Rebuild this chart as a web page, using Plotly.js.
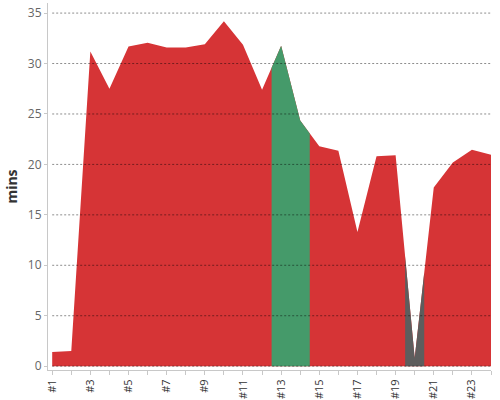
<!DOCTYPE html>
<html>
<head>
<meta charset="utf-8">
<script src="https://cdn.plot.ly/plotly-3.0.1.min.js"></script>
<style>html,body{margin:0;padding:0;background:#fff;}#chart{width:500px;height:400px;}</style>
</head>
<body>
<div id="chart"></div>
<script>
// ---- data ----
const categories = ['#1','#2','#3','#4','#5','#6','#7','#8','#9','#10','#11','#12',
                    '#13','#14','#15','#16','#17','#18','#19','#20','#21','#22','#23','#24'];
const minutes = [1.4, 1.5, 31.2, 27.5, 31.7, 32.05, 31.6, 31.6, 31.9, 34.2, 31.85, 27.4,
                 31.75, 24.35, 21.8, 21.35, 13.3, 20.8, 20.9, 0.8, 17.7, 20.2, 21.45, 20.95];
const status = ['late','late','late','late','late','late','late','late','late','late','late','late',
                'ontime','ontime','late','late','late','late','late','none','late','late','late','late'];
const yTicks = [0, 5, 10, 15, 20, 25, 30, 35];

// ---- styles ----
const statusColors = {late: 'rgb(214,52,54)', ontime: 'rgb(69,154,106)', none: 'rgb(93,93,93)'};
const baseStatus = 'late';

const n = minutes.length;
const idx = categories.map((c, i) => i);
function valAt(x) {
  const i0 = Math.floor(x), i1 = Math.min(n - 1, i0 + 1);
  const f = x - i0;
  return minutes[i0] + (minutes[i1] - minutes[i0]) * f;
}

// Base area with all points, then overlay each run of another status (colour switches halfway between points)
const traces = [{
  type: 'scatter', mode: 'lines', x: idx, y: minutes,
  fill: 'tozeroy', fillcolor: statusColors[baseStatus],
  line: {width: 0, color: statusColors[baseStatus]},
  hoverinfo: 'skip', showlegend: false
}];
let start = 0;
for (let i = 1; i <= n; i++) {
  if (i === n || status[i] !== status[start]) {
    const end = i - 1;
    if (status[start] !== baseStatus) {
      const xs = [], ys = [];
      const a = Math.max(0, start - 0.5), b = Math.min(n - 1, end + 0.5);
      if (a < start) { xs.push(a); ys.push(valAt(a)); }
      for (let k = start; k <= end; k++) { xs.push(idx[k]); ys.push(minutes[k]); }
      if (b > end) { xs.push(b); ys.push(valAt(b)); }
      traces.push({
        type: 'scatter', mode: 'lines', x: xs, y: ys,
        fill: 'tozeroy', fillcolor: statusColors[status[start]],
        line: {width: 0, color: statusColors[status[start]]},
        hoverinfo: 'skip', showlegend: false
      });
    }
    start = i;
  }
}

const gridShapes = yTicks.map(v => ({
  type: 'line', xref: 'x', yref: 'y', layer: 'above',
  x0: 0, x1: n - 1, y0: v, y1: v,
  line: {color: 'rgba(0,0,0,0.45)', width: 1, dash: '2px,2px'}
}));

const layout = {
  width: 500, height: 400,
  margin: {l: 48, r: 9, t: 3, b: 30},
  paper_bgcolor: '#fff', plot_bgcolor: '#fff',
  font: {family: '"Open Sans", sans-serif', size: 12, color: '#666'},
  xaxis: {
    range: [-0.22, n - 1],
    tickmode: 'array', tickvals: idx,
    ticktext: categories.map((c, i) => (i % 2 === 0 ? c : '')),
    tickangle: -90, ticks: 'outside', ticklen: 4, tickcolor: '#c8c8c8',
    showline: true, linecolor: '#c8c8c8', linewidth: 1,
    showgrid: false, zeroline: false,
    tickfont: {family: '"Open Sans", sans-serif', size: 11, color: '#333'}
  },
  yaxis: {
    range: [-0.38, 36],
    tickmode: 'array', tickvals: yTicks,
    ticks: 'outside', ticklen: 3, tickcolor: '#c8c8c8',
    showline: true, linecolor: '#c8c8c8', linewidth: 1,
    showgrid: false, zeroline: false,
    tickfont: {family: '"Open Sans", sans-serif', size: 12, color: '#666'},
    title: {text: '<b>mins</b>', font: {family: '"Open Sans", sans-serif', size: 14, color: '#333'}, standoff: 6}
  },
  shapes: gridShapes
};

Plotly.newPlot('chart', traces, layout, {displayModeBar: false, staticPlot: true});
</script>
</body>
</html>
